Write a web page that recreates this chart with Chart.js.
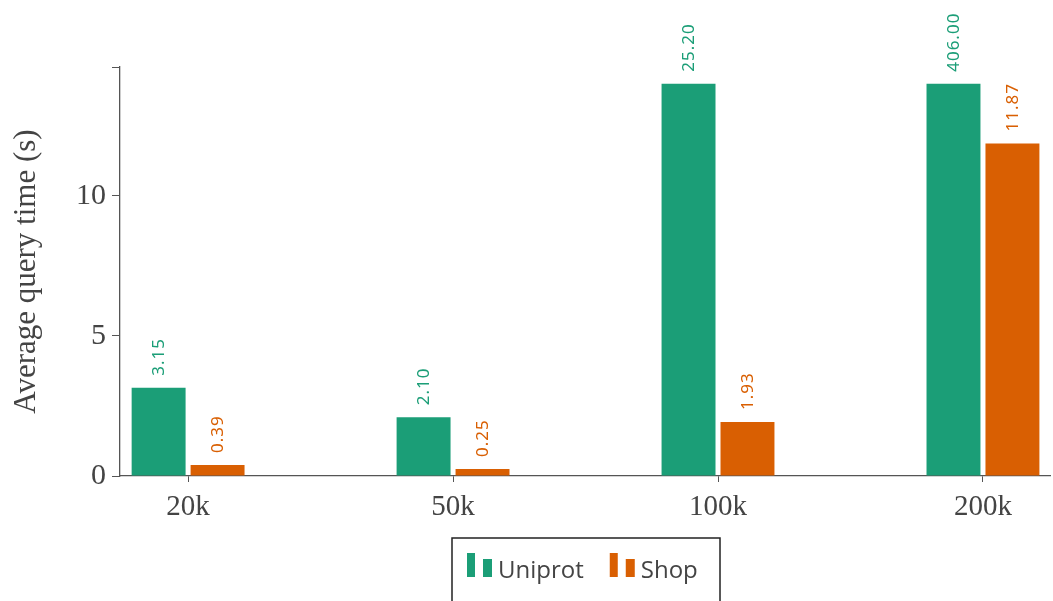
<!DOCTYPE html>
<html>
<head>
<meta charset="utf-8">
<script src="https://cdn.jsdelivr.net/npm/chart.js@4"></script>
<style>
  html, body { margin: 0; padding: 0; background: #fff; }
  #wrap { width: 1053px; height: 601px; position: relative; }
</style>
</head>
<body>
<div id="wrap"><canvas id="myChart"></canvas></div>
<script>
const categories = ['20k', '50k', '100k', '200k'];
const uniprotValues = [3.15, 2.10, 25.20, 406.00];
const shopValues = [0.39, 0.25, 1.93, 11.87];
const yTickLabels = [0, 5, 10];
const clipAt = 14;   // bars taller than this are cut off in the original
const yMax = 14.6;

const green = '#1b9e77';
const orange = '#d95f02';
const axisColor = '#555';
const textColor = '#444';

const toPoints = (vals) => vals.map((v, i) => ({ x: i, y: Math.min(v, clipAt), raw: v }));

const valueLabels = {
  id: 'valueLabels',
  afterDatasetsDraw(chart) {
    const ctx = chart.ctx;
    chart.data.datasets.forEach((ds, di) => {
      const meta = chart.getDatasetMeta(di);
      meta.data.forEach((bar, i) => {
        ctx.save();
        ctx.translate(bar.x, bar.y - 12);
        ctx.rotate(-Math.PI / 2);
        ctx.font = '17px "Noto Sans"';
        ctx.letterSpacing = '1px';
        ctx.fillStyle = ds.backgroundColor;
        ctx.textAlign = 'left';
        ctx.textBaseline = 'middle';
        ctx.fillText(ds.data[i].raw.toFixed(2), 0, 1);
        ctx.restore();
      });
    });
  }
};

const boxLegend = {
  id: 'boxLegend',
  afterDraw(chart) {
    const ctx = chart.ctx;
    ctx.save();
    ctx.strokeStyle = '#222';
    ctx.lineWidth = 1.5;
    ctx.strokeRect(452, 538, 268, 80);
    ctx.font = '24px "Open Sans"';
    ctx.textBaseline = 'alphabetic';
    let x = 467;
    chart.data.datasets.forEach((ds) => {
      ctx.fillStyle = ds.backgroundColor;
      ctx.fillRect(x, 553, 8, 24);
      ctx.fillRect(x + 16, 559, 9, 18);
      ctx.fillStyle = textColor;
      ctx.fillText(ds.label, x + 31, 578);
      x += 31 + ctx.measureText(ds.label).width + 26;
    });
    ctx.restore();
  }
};

const ctx = document.getElementById('myChart').getContext('2d');
new Chart(ctx, {
  type: 'bar',
  data: {
    datasets: [
      { label: 'Uniprot', data: toPoints(uniprotValues), backgroundColor: green, borderWidth: 0 },
      { label: 'Shop', data: toPoints(shopValues), backgroundColor: orange, borderWidth: 0 }
    ]
  },
  options: {
    responsive: true,
    maintainAspectRatio: false,
    animation: false,
    categoryPercentage: 0.445,
    barPercentage: 0.915,
    layout: { padding: { left: 8, right: 3, top: 67, bottom: 65 } },
    plugins: {
      legend: { display: false },
      tooltip: { enabled: false }
    },
    scales: {
      x: {
        type: 'linear',
        min: -0.257,
        max: 3.253,
        offset: false,
        afterBuildTicks: (scale) => { scale.ticks = categories.map((c, i) => ({ value: i })); },
        afterFit: (scale) => { scale.height = 60; },
        ticks: {
          callback: (v) => categories[v],
          color: textColor,
          font: { family: '"Liberation Serif"', size: 29 },
          padding: 8
        },
        grid: { offset: false, drawOnChartArea: false, color: axisColor, tickLength: 6 },
        border: { color: axisColor, width: 1.3 }
      },
      y: {
        min: 0,
        max: yMax,
        afterBuildTicks: (scale) => {
          scale.ticks = yTickLabels.concat([yMax]).map((v) => ({ value: v }));
        },
        afterFit: (scale) => { scale.width = 112; },
        ticks: {
          callback: (v) => (yTickLabels.includes(v) ? v : ''),
          color: textColor,
          font: { family: '"Liberation Serif"', size: 30 },
          padding: 6
        },
        grid: { drawOnChartArea: false, color: axisColor, tickLength: 8 },
        border: { color: axisColor, width: 1.3 },
        title: {
          display: true,
          text: 'Average query time (s)',
          color: textColor,
          font: { family: '"Liberation Serif"', size: 31 },
          padding: 0
        }
      }
    }
  },
  plugins: [valueLabels, boxLegend]
});
</script>
</body>
</html>
